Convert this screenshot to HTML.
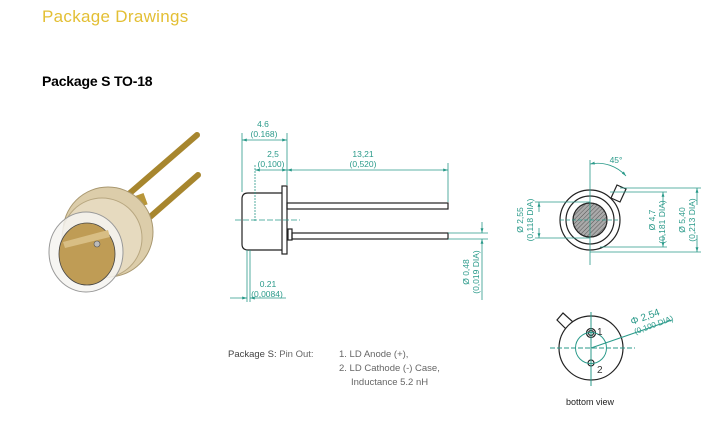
<!DOCTYPE html>
<html><head><meta charset="utf-8"><style>
html,body{margin:0;padding:0;background:#fff;}
body{width:728px;height:425px;overflow:hidden;position:relative;font-family:"Liberation Sans",sans-serif;}
</style></head><body>
<svg width="728" height="425" viewBox="0 0 728 425" xmlns="http://www.w3.org/2000/svg" style="position:absolute;left:0;top:0">
<defs>
<pattern id="h" width="3" height="3" patternUnits="userSpaceOnUse" patternTransform="rotate(45)">
<rect width="3" height="3" fill="#aaa"/><line x1="0" y1="0" x2="0" y2="3" stroke="#555" stroke-width="1"/>
</pattern>
<marker id="a" viewBox="0 0 10 10" refX="10" refY="5" markerWidth="6" markerHeight="6" orient="auto-start-reverse"><path d="M0,2L10,5L0,8z" fill="#2a9a8a"/></marker>
</defs>
<text x="42" y="22" font-size="17" fill="#e3bf34" letter-spacing="0.3">Package Drawings</text>
<text x="42" y="86" font-size="14" fill="#000" font-weight="bold" letter-spacing="-0.2">Package S  TO-18</text>

<!-- photo -->
<g>
<line x1="130" y1="193" x2="197" y2="135" stroke="#a7862e" stroke-width="6" stroke-linecap="round"/>
<line x1="150" y1="217" x2="198" y2="175" stroke="#a7862e" stroke-width="6" stroke-linecap="round"/>
<rect x="132" y="195" width="14" height="12" fill="#b8963a" transform="rotate(-20 139 201)"/>
<ellipse cx="108" cy="232" rx="45" ry="45" fill="#dccdaa" stroke="#a99870"/>
<ellipse cx="102" cy="238" rx="40" ry="40" fill="#e6dabf" stroke="#b8a780"/>
<ellipse cx="86" cy="252" rx="37" ry="40" fill="rgba(245,243,240,0.85)" stroke="#999" stroke-width="1"/>
<ellipse cx="87" cy="254" rx="28" ry="31" fill="#bf9c55" stroke="#444" stroke-width="0.8"/>
<path d="M63,242 L108,230 L110,237 L65,248z" fill="#d8be84"/>
<circle cx="97" cy="244" r="3" fill="#bbb" stroke="#555" stroke-width="0.6"/>
</g>

<!-- side view -->
<g stroke="#222" fill="none" stroke-width="1.2">
<path d="M282,193 L248,193 Q242,193 242,199 L242,244 Q242,250 248,250 L282,250"/>
<rect x="282" y="186" width="5" height="68"/>
<rect x="287" y="203" width="161" height="6"/>
<rect x="288" y="229" width="4" height="11"/>
<rect x="292" y="233" width="156" height="6"/>
</g>
<g stroke="#2a9a8a" stroke-width="0.8" fill="none">
<line x1="242" y1="133" x2="242" y2="192"/>
<line x1="287" y1="133" x2="287" y2="185"/>
<line x1="255" y1="165" x2="255" y2="222" stroke-dasharray="2,1"/>
<line x1="448" y1="163" x2="448" y2="202"/>
<line x1="242" y1="140" x2="287" y2="140" marker-start="url(#a)" marker-end="url(#a)"/>
<line x1="255" y1="170" x2="287" y2="170" marker-start="url(#a)" marker-end="url(#a)"/>
<line x1="287" y1="170" x2="448" y2="170" marker-start="url(#a)" marker-end="url(#a)"/>
<line x1="247" y1="250" x2="247" y2="302"/>
<line x1="250" y1="250" x2="250" y2="302"/>
<line x1="230" y1="298" x2="247" y2="298" marker-end="url(#a)"/>
<line x1="286" y1="298" x2="250" y2="298" marker-end="url(#a)"/>
<line x1="448" y1="233" x2="488" y2="233"/>
<line x1="448" y1="239" x2="488" y2="239"/>
<line x1="482" y1="222" x2="482" y2="233" marker-end="url(#a)"/>
<line x1="482" y1="250" x2="482" y2="239" marker-end="url(#a)"/>
<line x1="482" y1="250" x2="482" y2="300"/>
<line x1="235" y1="220" x2="300" y2="220" stroke-dasharray="6,2"/>
</g>
<g fill="#2a9a8a" font-size="8.5" text-anchor="middle">
<text x="263" y="127">4.6</text><text x="264" y="137">(0.168)</text>
<text x="273" y="157">2,5</text><text x="271" y="167">(0,100)</text>
<text x="363" y="157">13,21</text><text x="363" y="167">(0,520)</text>
<text x="268" y="287">0.21</text><text x="267" y="297">(0,0084)</text>
<text transform="translate(469,272) rotate(-90)">Ø 0,48</text>
<text transform="translate(479,272) rotate(-90)">(0,019 DIA)</text>
</g>

<!-- end view -->
<g stroke="#222" stroke-width="1.2">
<path d="M611,198 L617,185 L626,189 L620,202z" fill="#fff"/>
<circle cx="590" cy="220" r="30" fill="#fff"/>
<circle cx="590" cy="220" r="24" fill="none"/>
<circle cx="590" cy="220" r="17" fill="url(#h)"/>
</g>
<g stroke="#2a9a8a" stroke-width="0.8" fill="none">
<line x1="590" y1="160" x2="590" y2="265"/>
<line x1="560" y1="220" x2="620" y2="220" stroke-dasharray="4,2"/>
<line x1="535" y1="202" x2="590" y2="202"/><line x1="535" y1="238" x2="590" y2="238"/>
<line x1="539" y1="212" x2="539" y2="202" marker-end="url(#a)"/>
<line x1="539" y1="228" x2="539" y2="238" marker-end="url(#a)"/>
<line x1="610" y1="192" x2="667" y2="192"/><line x1="600" y1="247" x2="667" y2="247"/>
<line x1="663" y1="205" x2="663" y2="192" marker-end="url(#a)"/>
<line x1="663" y1="235" x2="663" y2="247" marker-end="url(#a)"/>
<line x1="620" y1="188" x2="701" y2="188"/><line x1="590" y1="252" x2="701" y2="252"/>
<line x1="697" y1="205" x2="697" y2="188" marker-end="url(#a)"/>
<line x1="697" y1="235" x2="697" y2="252" marker-end="url(#a)"/>
<path d="M590,164 A38,38 0 0 1 626,176" marker-start="url(#a)" marker-end="url(#a)"/>
</g>
<g fill="#2a9a8a" font-size="8.5" text-anchor="middle">
<text x="616" y="163">45°</text>
<text transform="translate(523,220) rotate(-90)">Ø 2,55</text>
<text transform="translate(533,220) rotate(-90)">(0,118 DIA)</text>
<text transform="translate(655,220) rotate(-90)">Ø 4,7</text>
<text transform="translate(665,220) rotate(-90)" x="-2">(0,181 DIA)</text>
<text transform="translate(685,220) rotate(-90)">Ø 5,40</text>
<text transform="translate(695,220) rotate(-90)">(0,213 DIA)</text>
</g>

<!-- bottom view -->
<g stroke="#222" stroke-width="1.2">
<path d="M566,329 L557,320 L563,313 L573,322z" fill="#fff"/>
<circle cx="591" cy="348" r="32" fill="#fff"/>
<circle cx="591" cy="333" r="4.5" fill="none"/>
<circle cx="591" cy="333" r="2.5" fill="none"/>
<circle cx="591" cy="363" r="3" fill="none"/>
</g>
<g stroke="#2a9a8a" stroke-width="1" fill="none">
<line x1="591" y1="312" x2="591" y2="386"/>
<line x1="550" y1="348" x2="635" y2="348" stroke-dasharray="5,2"/>
<circle cx="591" cy="348" r="15.5"/>
<line x1="591" y1="348" x2="672" y2="320"/>
</g>
<g fill="#2a9a8a" font-size="10" transform="translate(632,325) rotate(-20)">
<text x="0" y="0">Φ 2,54</text><text x="0" y="10" font-size="8">(0,100 DIA)</text>
</g>
<text x="597" y="335" font-size="10" fill="#333">1</text>
<text x="597" y="373" font-size="10" fill="#333">2</text>
<text x="590" y="405" font-size="9" fill="#222" text-anchor="middle">bottom view</text>

<!-- pin out -->
<g font-size="9.5" fill="#666">
<text x="228" y="357"><tspan fill="#444">Package S:</tspan> Pin Out:</text>
<text x="339" y="357">1. LD Anode (+),</text>
<text x="339" y="371">2. LD Cathode (-) Case,</text>
<text x="351" y="385">Inductance 5.2 nH</text>
</g>
</svg>
</body></html>
